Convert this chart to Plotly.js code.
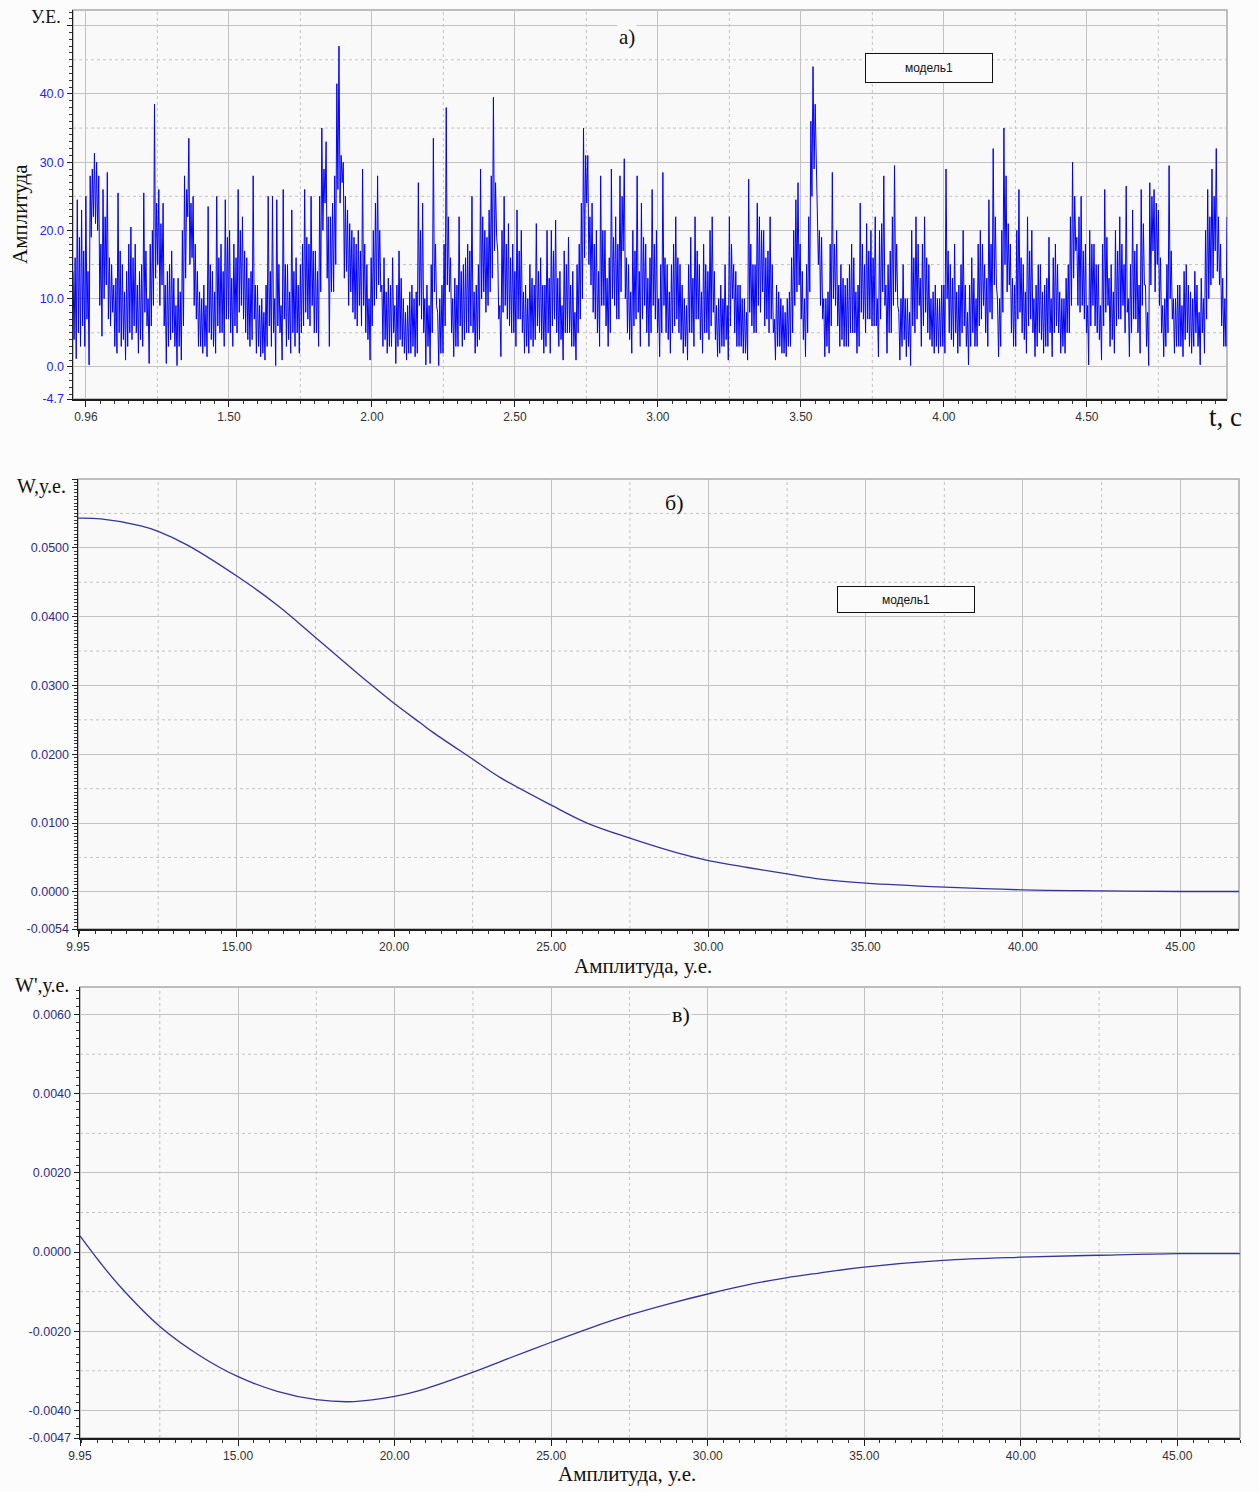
<!DOCTYPE html>
<html>
<head>
<meta charset="utf-8">
<script src="https://cdn.plot.ly/plotly-3.0.1.min.js"></script>
<style>
  html, body { margin: 0; padding: 0; background: #fcfcfc; }
  #chart { width: 1259px; height: 1492px; }
</style>
</head>
<body>
<div id="chart"></div>
<script>
// ---- а) signal amplitude vs time, uniform sampling ----
const T0 = 0.955;
const DT = 0.00375;
const amplitude = [
  14,4, 16,1.2, 24.5,5, 19,3, 23,6, 17,3, 25,7, 14,0.3, 28,19, 29,22, 31.3,21, 30,20, 28,9, 18,4.5, 26,10, 22,12, 28.5,7, 16,6, 15,8, 12,3,
  13,2, 25.5,5, 17,3, 15,4, 11,1, 14,3, 18,5, 20.5,4, 16,6, 18,5, 12,2, 14,4, 15,3, 25.5,8, 17,6, 10,0.5, 18,6, 20,9, 38.5,13, 24,15,
  26,9, 21,12, 24,6, 12,0.5, 14,3, 15,4, 17,5, 13,3, 9,0.2, 13,3, 11,1, 20,6, 28,13, 26,22, 33.5,15, 24,16, 25,9, 18,7, 14,3, 11,3,
  10,2, 12,3, 9,1.5, 23.5,5, 15,4, 14,3, 11,2, 25,6, 16,5, 18,5, 14,3, 24.5,7, 19,7, 20,5, 13,3, 18,6, 16,5, 26,8, 20,9, 22,7,
  17,5, 16,4, 13,3, 14,4, 28,7, 12,2, 12,3, 9,1.5, 10,2, 8,1, 12,3, 25,6, 14,3, 25,5, 10,0.2, 24.5,6, 15,5, 9,1, 26,7, 15,3,
  15,4, 11,2, 23,5, 14,3, 16,5, 12,2, 15,5, 18,6, 26,8, 19,7, 18,6, 25,9, 17,5, 17,5, 14,3, 25,11, 35,20, 29,24, 33,13, 22,3,
  22,11, 24,11, 28,15, 41.5,26, 47,24, 31,27, 30,13, 25,14, 23,9, 21,11, 20,8, 19,7, 18,6, 20,9, 17,6, 29,9, 18,5, 15,4, 10,1, 16,6,
  20,9, 24,10, 28,12, 20,11, 12,3, 16,4, 11,2, 13,3, 12,3, 16,5, 9,0.5, 12,3, 17,4, 13,3, 10,2, 8,1, 9,2, 11,2, 12,3, 10,1.5,
  11,2, 27,9, 20,7, 24,5, 10,0.3, 12,3, 9,0.5, 15,5, 33.5,11, 18,9, 8,0.2, 10,2, 12,2, 18,6, 38,12, 22,11, 16,5, 10,1.5, 13,3, 12,3,
  22,6, 14,3, 15,4, 16,5, 18,5, 17,6, 25,5, 11,2, 12,3, 15,4, 29,10, 22,11, 20,8, 19,9, 23,11, 28,13, 39.5,17, 27,19, 17,7, 9,1.5,
  20,8, 25,9, 18,7, 21,6, 16,5, 18,5, 14,3, 23,7, 17,7, 20,5, 11,2, 12,3, 10,2, 15,4, 13,3, 12,4, 21,6, 14,5, 16,4, 12,2,
  12,3, 20,5, 13,2, 20,6, 17,7, 21.5,5, 13,3, 14,4, 9,1, 17,5, 15,5, 19,5, 12,3, 14,3, 8,1, 15,5, 18,7, 24,10, 35,16, 31,24,
  31,15, 22,12, 24,8, 18,7, 20,5, 14,3, 28,9, 20,9, 20,6, 13,3, 16,5, 29,10, 19,9, 22,7, 18,7, 28,11, 25,17, 30.5,10, 16,5, 15,4,
  11,2, 20,6, 17,7, 28,8, 14,3, 24,7, 19,9, 18,5, 13,3, 16,5, 26,9, 18,7, 20,5, 10,1.5, 15,5, 28.5,9, 16,5, 15,4, 11,2, 15,5,
  18,6, 22,7, 16,5, 15,4, 12,2, 10,3, 9,1, 15,5, 19,5, 13,3, 22,7, 17,7, 15,4, 11,2, 18,5, 15,5, 14,4, 20,6, 22,8, 14,4,
  9,1.5, 10,2, 12,3, 10,3, 15,4, 9,1, 22,6, 18,10, 15,5, 14,3, 12,3, 12,3, 10,2, 10,2, 8,1, 27.5,8, 18,6, 15,5, 15,5, 24,9,
  22,8, 20,11, 20,6, 16,7, 17,5, 22,7, 15,5, 7,1, 12,3, 11,3, 10,2, 9,2, 8,1.5, 10,3, 11,3, 16,5, 20,9, 24.5,11, 27,12, 18,7,
  14,4, 10,1.5, 15,5, 22,11, 36,25, 44,29, 38.5,30, 26,15, 20,9, 19,7, 10,1.5, 10,3, 11,2, 18,6, 28.5,10, 18,9, 20,6, 12,3, 15,4, 13,3,
  12,3, 13,3, 15,5, 18,5, 16,5, 11,2, 12,3, 24,8, 18,7, 15,5, 21,7, 17,7, 20,6, 16,6, 22,6, 10,1.5, 20,7, 21,11, 28,9, 12,2,
  15,5, 17,5, 22,9, 29.5,11, 18,9, 8,1, 10,3, 15,4, 10,1.5, 10,3, 8,0.2, 20,6, 16,5, 22,7, 18,9, 13,3, 18,6, 22,8, 16,5, 15,4,
  10,3, 11,2, 12,3, 10,2, 10,3, 12,3, 12,2, 29,10, 17,5, 15,4, 13,3, 18,5, 11,2, 12,3, 15,5, 20,6, 12,3, 8,0.3, 12,3, 16,5,
  13,3, 10,3, 18,6, 20,7, 18,9, 15,5, 13,3, 24.5,8, 18,7, 32,12, 22,12, 10,1.5, 10,3, 20,8, 35,15, 28,11, 21,12, 18,5, 13,3, 12,3,
  20,7, 26,8, 16,5, 15,4, 11,2, 22,6, 17,7, 20,5, 10,1.5, 12,3, 15,5, 15,4, 11,2, 12,3, 13,3, 19,5, 10,1.5, 16,5, 18,6, 15,5,
  11,2, 10,3, 10,2, 13,5, 15,5, 22,9, 30,13, 25,17, 19,9, 22,8, 25,9, 17,7, 18,5, 9,0.3, 20,6, 18,9, 18,6, 15,5, 15,4, 9,1,
  18,6, 26,8, 19,9, 13,3, 15,4, 11,2, 20,6, 17,7, 22,7, 18,9, 15,5, 26.5,8, 10,1.5, 15,5, 23,7, 17,7, 18,5, 12,2, 26,9, 21,12,
  12,3, 8,0.2, 27,12, 25,17, 26,11, 24,15, 23,9, 16,5, 9,1.5, 10,3, 15,5, 29.5,10, 17,7, 10,2, 10,3, 12,3, 12,3, 9,1.5, 14,4, 15,5,
  12,3, 11,2, 10,3, 14,5, 12,3, 8,0.3, 13,5, 10,2, 20,7, 26,10, 22,12, 29,13, 25,17, 32,14, 22,12, 18,6, 13,3, 10,3, 22
];
const timeTickVals = [1.0, 1.5, 2.0, 2.5, 3.0, 3.5, 4.0, 4.5];
const timeTickText = ['0.96', '1.50', '2.00', '2.50', '3.00', '3.50', '4.00', '4.50'];
const timeMinor = [1.25, 1.75, 2.25, 2.75, 3.25, 3.75, 4.25, 4.75];
const ampTickVals = [-4.7, 0, 10, 20, 30, 40, 50];
const ampTickText = ['-4.7', '0.0', '10.0', '20.0', '30.0', '40.0', ''];
const ampMinor = [5, 15, 25, 35, 45];

// ---- б) density W over amplitude ----
const wAmp = [9.95, 10.67, 11.95, 12.5, 13.43, 15, 16.28, 17.55, 19.14, 20, 20.82, 21.26,
  22.53, 23.38, 25, 26.14, 27.5, 28.98, 30, 31.24, 32.5, 33.56, 35, 37.5, 40, 42.5, 45, 46.87];
const wVal = [0.0543, 0.0542, 0.0532, 0.0524, 0.0504, 0.0459, 0.0417, 0.0368, 0.0306, 0.0274, 0.0246, 0.0231,
  0.0192, 0.0166, 0.0126, 0.0100, 0.0078, 0.0057, 0.00455, 0.00354, 0.0026, 0.00184, 0.00126, 0.00068, 0.00029, 0.00015, 0.00005, 0.00005];

// ---- в) derivative W' over amplitude ----
const dAmp = [9.95, 10.6, 11.23, 12.5, 13.78, 15, 16.25, 17.5, 18.7, 20, 20.84, 22.53, 23.6, 25,
  26.24, 27.5, 28.7, 30, 31.45, 32.5, 33.56, 35, 37.5, 40, 42.5, 45, 47];
const dVal = [0.00041, -0.00027, -0.00087, -0.00188, -0.00262, -0.00315, -0.00352, -0.00373, -0.00378, -0.00365, -0.00349, -0.00303, -0.0027, -0.00228,
  -0.00192, -0.00159, -0.00132, -0.00106, -0.0008, -0.00065, -0.00053, -0.00038, -0.00021, -0.00013, -0.00008, -0.00004, -0.00004];

const ampAxisVals = [9.95, 15, 20, 25, 30, 35, 40, 45];
const ampAxisText = ['9.95', '15.00', '20.00', '25.00', '30.00', '35.00', '40.00', '45.00'];
const ampAxisMinor = [12.5, 17.5, 22.5, 27.5, 32.5, 37.5, 42.5];
const wTickVals = [-0.0054, 0, 0.01, 0.02, 0.03, 0.04, 0.05, 0.06];
const wTickText = ['-0.0054', '0.0000', '0.0100', '0.0200', '0.0300', '0.0400', '0.0500', ''];
const wMinor = [0.005, 0.015, 0.025, 0.035, 0.045, 0.055];
const dTickVals = [-0.0047, -0.004, -0.002, 0, 0.002, 0.004, 0.006];
const dTickText = ['-0.0047', '-0.0040', '-0.0020', '0.0000', '0.0020', '0.0040', '0.0060'];
const dMinor = [-0.003, -0.001, 0.001, 0.003, 0.005];

// ---- page geometry ----
const W = 1259, H = 1492;
const fx = p => p / W;
const fy = p => 1 - p / H;

const PLOT_BG = '#f9f9f9';
const GRID = '#c2c2c2';
const DOT = '#c4c4c4';
const AXIS = '#1e1e1e';
const sans = 'Liberation Sans, Arial, sans-serif';
const serif = 'Liberation Serif, Times New Roman, serif';

const times = amplitude.map((_, i) => T0 + i * DT);

function axisX(domain, anchor, range, vals, text, tick0, dtick) {
  return {
    domain, anchor, range, tickmode: 'array', tickvals: vals, ticktext: text,
    showgrid: true, gridcolor: GRID, gridwidth: 1, zeroline: false,
    showline: true, linecolor: AXIS, linewidth: 1.5,
    ticks: 'outside', ticklen: 6, tickcolor: AXIS, tickwidth: 1,
    tickfont: { family: sans, size: 12, color: '#333333' },
    minor: { tickmode: 'linear', tick0, dtick, ticks: 'outside', ticklen: 3, tickcolor: '#333333', showgrid: false },
    fixedrange: true
  };
}
function axisY(domain, anchor, range, vals, text, color, tick0, dtick) {
  return {
    domain, anchor, range, tickmode: 'array', tickvals: vals, ticktext: text,
    showgrid: true, gridcolor: GRID, gridwidth: 1, zeroline: false,
    showline: true, linecolor: AXIS, linewidth: 1.5,
    ticks: 'outside', ticklen: 5, tickcolor: AXIS, tickwidth: 1,
    tickfont: { family: sans, size: 12.5, color },
    minor: { tickmode: 'linear', tick0, dtick, ticks: 'outside', ticklen: 3, tickcolor: '#333333', showgrid: false },
    fixedrange: true
  };
}

const rA = [0.955, 4.99], yA = [-4.7, 52.3];
const rB = [9.95, 46.87], yB = [-0.0054, 0.060];
const rC = [9.95, 47.0], yC = [-0.0047, 0.0067];

const traces = [
  { x: times, y: amplitude, xaxis: 'x', yaxis: 'y', type: 'scatter', mode: 'lines',
    line: { color: '#0000ff', width: 1 }, name: 'модель1', showlegend: false, hoverinfo: 'skip' },
  { x: wAmp, y: wVal, xaxis: 'x2', yaxis: 'y2', type: 'scatter', mode: 'lines',
    line: { color: '#35349e', width: 1.3, shape: 'spline', smoothing: 1 }, name: 'модель1', showlegend: false, hoverinfo: 'skip' },
  { x: dAmp, y: dVal, xaxis: 'x3', yaxis: 'y3', type: 'scatter', mode: 'lines',
    line: { color: '#35349e', width: 1.3, shape: 'spline', smoothing: 1 }, name: 'модель1', showlegend: false, hoverinfo: 'skip' }
];

// dotted half-step grid and the grey frame of each panel
const shapes = [];
function dottedGrid(xr, yr, xs, ys) {
  xs.forEach(v => shapes.push({ type: 'line', xref: xr, yref: yr + ' domain', x0: v, x1: v, y0: 0, y1: 1,
    line: { color: DOT, width: 1, dash: 'dot' }, layer: 'below' }));
  ys.forEach(v => shapes.push({ type: 'line', xref: xr + ' domain', yref: yr, x0: 0, x1: 1, y0: v, y1: v,
    line: { color: DOT, width: 1, dash: 'dot' }, layer: 'below' }));
  shapes.push({ type: 'rect', xref: xr + ' domain', yref: yr + ' domain', x0: 0, x1: 1, y0: 0, y1: 1,
    line: { color: '#a9a9a9', width: 1.5 }, layer: 'below' });
}
dottedGrid('x', 'y', timeMinor, ampMinor);
dottedGrid('x2', 'y2', ampAxisMinor, wMinor);
dottedGrid('x3', 'y3', ampAxisMinor, dMinor);

function label(text, px, py, size, extra) {
  return Object.assign({ text, x: fx(px), y: fy(py), xref: 'paper', yref: 'paper',
    xanchor: 'center', yanchor: 'middle', showarrow: false,
    font: { family: serif, size, color: '#111111' } }, extra || {});
}
function legendBox(px, py, w, h) {
  return { text: 'модель1', x: fx(px), y: fy(py), xref: 'paper', yref: 'paper',
    xanchor: 'center', yanchor: 'middle', showarrow: false, width: w, height: h,
    bgcolor: '#fbfbfb', bordercolor: '#111111', borderwidth: 1, borderpad: 1,
    font: { family: sans, size: 12, color: '#111111' } };
}

const layout = {
  width: W, height: H,
  margin: { l: 0, r: 0, t: 0, b: 0 },
  paper_bgcolor: '#fcfcfc', plot_bgcolor: PLOT_BG,
  showlegend: false,
  xaxis:  axisX([fx(73), fx(1227)], 'y', rA, timeTickVals, timeTickText, 1.0, 0.05),
  yaxis:  axisY([fy(399), fy(10)], 'x', yA, ampTickVals, ampTickText, '#2323ff', 0, 1),
  xaxis2: axisX([fx(78), fx(1239)], 'y2', rB, ampAxisVals, ampAxisText, 10, 0.5),
  yaxis2: axisY([fy(929), fy(479)], 'x2', yB, wTickVals, wTickText, '#2d2d8f', 0, 0.0005),
  xaxis3: axisX([fx(80), fx(1240)], 'y3', rC, ampAxisVals, ampAxisText, 10, 0.5),
  yaxis3: axisY([fy(1438), fy(987)], 'x3', yC, dTickVals, dTickText, '#2d2d8f', 0, 0.0002),
  shapes,
  annotations: [
    label('У.Е.', 46, 17, 18),
    label('Амплитуда', 20, 214, 21, { textangle: -90 }),
    label('а)', 627, 37, 21, { bgcolor: PLOT_BG }),
    legendBox(929, 68, 124, 26),
    label('t, c', 1225, 417, 27),
    label('W,у.е.', 42, 486, 20),
    label('б)', 674, 503, 22),
    legendBox(906, 599, 134, 23),
    label('Амплитуда, у.е.', 643, 966, 21),
    label("W',у.е.", 42, 985, 20),
    label('в)', 681, 1015, 22, { bgcolor: PLOT_BG }),
    label('Амплитуда, у.е.', 627, 1474, 21)
  ]
};

Plotly.newPlot('chart', traces, layout, { displayModeBar: false, staticPlot: true });
</script>
</body>
</html>
